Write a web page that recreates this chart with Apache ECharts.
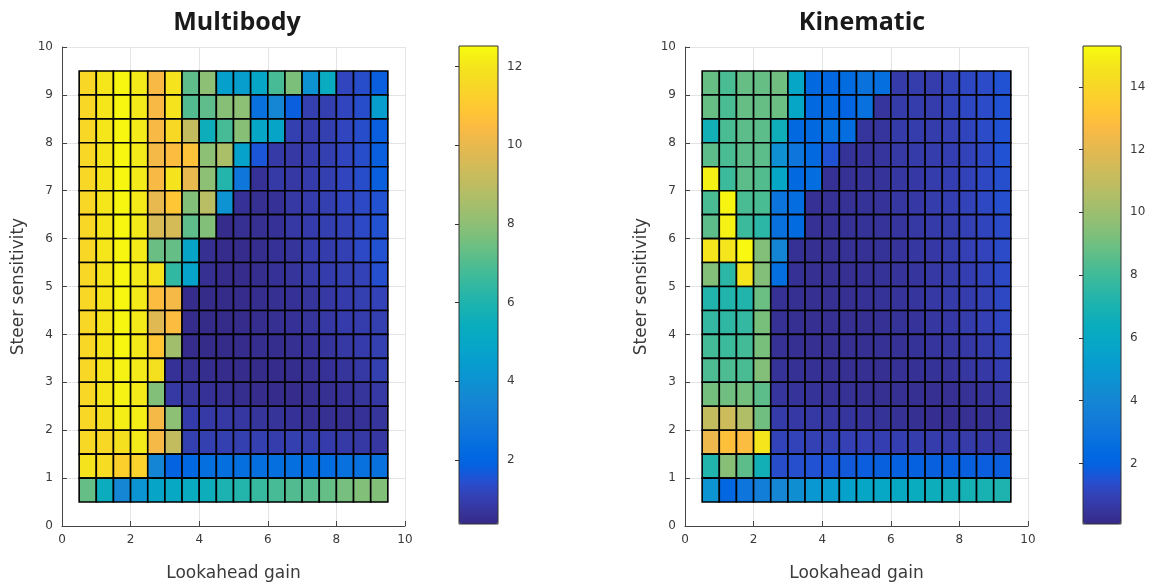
<!DOCTYPE html>
<html>
<head>
<meta charset="utf-8">
<script src="https://cdn.jsdelivr.net/npm/echarts@6/dist/echarts.min.js"></script>
<style>
html,body{margin:0;padding:0;background:#fff;}
#chart{width:1150px;height:587px;}
</style>
</head>
<body>
<div id="chart"></div>
<script>
// Cell centres (lookahead gain, left to right) and (steer sensitivity, top to bottom)
const gainCenters = [0.75,1.25,1.75,2.25,2.75,3.25,3.75,4.25,4.75,5.25,5.75,6.25,6.75,7.25,7.75,8.25,8.75,9.25];
const sensCenters = [9.25,8.75,8.25,7.75,7.25,6.75,6.25,5.75,5.25,4.75,4.25,3.75,3.25,2.75,2.25,1.75,1.25,0.75];

// Multibody values, rows from top (9.25) to bottom (0.75)
const multibody = [
  [11.5,12.0,12.4,12.1,10.4,11.9,7.2,8.0,4.6,4.5,5.0,6.8,7.7,4.0,5.3,1.2,1.4,1.8],
  [11.5,12.0,12.4,12.1,10.4,11.9,7.0,7.2,7.9,8.0,2.5,3.5,1.8,1.0,1.0,1.2,1.4,4.5],
  [11.5,12.0,12.4,12.1,10.4,11.6,9.1,5.5,6.8,7.9,5.0,4.9,1.0,0.9,1.0,1.2,1.4,1.8],
  [11.5,12.0,12.4,12.1,10.3,10.5,10.7,8.0,8.6,4.7,1.6,0.85,0.8,0.9,1.0,1.2,1.4,1.8],
  [11.5,12.0,12.4,12.1,10.4,11.9,10.0,8.0,6.1,2.8,0.6,0.85,0.8,0.9,1.0,1.2,1.4,1.8],
  [11.5,12.0,12.4,12.1,10.0,10.9,7.8,8.9,4.0,0.6,0.55,0.6,0.8,0.9,1.0,1.2,1.3,1.5],
  [11.5,12.0,12.4,12.1,9.6,9.5,7.2,7.8,0.45,0.55,0.55,0.6,0.8,0.9,1.0,1.1,1.3,1.5],
  [11.5,12.0,12.4,12.1,7.4,7.3,4.9,0.55,0.45,0.45,0.5,0.6,0.7,0.9,0.95,1.05,1.3,1.5],
  [11.5,12.0,12.4,12.1,11.9,6.4,4.8,0.55,0.45,0.45,0.5,0.6,0.7,0.85,0.95,1.0,1.1,1.45],
  [11.5,12.0,12.4,12.1,10.5,10.3,0.45,0.4,0.4,0.45,0.5,0.55,0.6,0.7,0.8,0.9,1.0,1.1],
  [11.5,12.0,12.4,12.1,9.8,10.5,0.45,0.4,0.4,0.45,0.5,0.55,0.6,0.7,0.8,0.9,0.95,1.0],
  [11.5,12.0,12.4,12.1,10.9,8.4,0.45,0.4,0.4,0.45,0.5,0.5,0.55,0.6,0.7,0.8,0.9,1.0],
  [11.5,12.0,12.3,12.1,11.8,0.6,0.55,0.5,0.45,0.45,0.4,0.45,0.5,0.55,0.6,0.7,0.8,1.0],
  [11.5,12.0,12.3,12.1,7.8,0.8,0.7,0.6,0.55,0.5,0.45,0.45,0.45,0.5,0.55,0.6,0.7,0.8],
  [11.5,11.8,12.2,12.2,10.3,8.0,0.9,0.85,0.8,0.75,0.7,0.65,0.6,0.55,0.55,0.55,0.6,0.7],
  [11.6,11.6,11.8,12.1,10.3,9.1,1.0,1.0,1.0,1.0,1.0,0.95,1.0,0.95,0.9,0.85,0.8,0.75],
  [11.9,11.7,11.2,11.3,3.4,1.9,2.1,2.4,2.4,2.4,2.4,2.4,2.4,2.3,2.3,2.5,2.5,2.5],
  [7.3,5.4,3.5,4.1,4.9,5.1,5.3,5.5,5.9,6.1,6.5,6.8,7.0,7.1,7.3,7.6,7.8,7.8]
];

// Kinematic values, rows from top (9.25) to bottom (0.75)
const kinematic = [
  [8.8,8.2,8.8,8.8,9.0,5.8,2.3,2.2,2.4,2.8,2.6,0.7,0.8,0.8,1.0,1.2,1.3,1.5],
  [8.8,8.2,8.8,8.8,8.9,5.8,2.3,2.3,2.1,2.7,0.5,0.7,0.8,0.8,1.0,1.2,1.3,1.5],
  [6.7,8.2,8.6,8.6,6.6,2.3,2.3,2.6,2.5,0.5,0.5,0.7,0.75,0.8,0.9,1.1,1.3,1.5],
  [8.6,8.2,8.6,8.6,4.5,3.0,2.3,1.5,0.4,0.45,0.5,0.6,0.7,0.75,0.85,1.0,1.2,1.5],
  [15.0,7.9,8.6,8.4,5.8,2.3,2.5,0.35,0.35,0.4,0.45,0.55,0.65,0.75,0.85,1.0,1.2,1.4],
  [8.2,15.1,8.2,8.2,2.9,2.5,0.35,0.35,0.35,0.4,0.45,0.55,0.65,0.75,0.85,1.0,1.2,1.4],
  [8.6,15.0,7.9,7.5,2.7,2.4,0.35,0.35,0.35,0.4,0.45,0.5,0.6,0.7,0.8,0.95,1.1,1.3],
  [14.6,14.6,15.2,9.4,3.9,0.35,0.3,0.3,0.35,0.35,0.4,0.45,0.55,0.65,0.75,0.9,1.05,1.3],
  [9.4,7.5,14.6,9.4,2.6,0.35,0.3,0.3,0.3,0.35,0.4,0.45,0.5,0.6,0.7,0.85,1.0,1.25],
  [7.2,7.2,7.2,8.9,0.35,0.3,0.3,0.3,0.3,0.35,0.4,0.45,0.5,0.6,0.7,0.8,0.95,1.2],
  [7.7,7.6,7.7,9.2,0.35,0.3,0.3,0.3,0.3,0.3,0.35,0.4,0.45,0.55,0.65,0.75,0.9,1.15],
  [8.1,7.9,8.1,9.2,0.35,0.3,0.3,0.3,0.3,0.3,0.35,0.35,0.4,0.5,0.55,0.65,0.8,1.0],
  [8.3,8.3,8.2,9.4,0.4,0.35,0.35,0.3,0.3,0.3,0.3,0.35,0.35,0.4,0.45,0.55,0.65,0.85],
  [9.1,9.0,9.1,8.6,0.5,0.45,0.4,0.35,0.35,0.3,0.3,0.3,0.3,0.3,0.3,0.35,0.45,0.55],
  [11.0,11.3,10.5,9.0,0.7,0.65,0.6,0.55,0.5,0.45,0.4,0.35,0.3,0.25,0.25,0.3,0.35,0.45],
  [12.3,13.0,12.8,14.6,1.0,1.0,0.95,0.95,0.9,0.9,0.85,0.85,0.8,0.75,0.7,0.7,0.65,0.6],
  [7.2,9.5,8.6,6.7,1.35,1.4,1.5,1.6,1.7,1.85,1.9,1.95,1.95,1.9,1.9,1.9,1.85,1.85],
  [4.7,2.2,3.0,3.5,4.0,4.4,4.9,5.2,5.5,5.8,5.95,6.1,6.3,6.5,6.6,6.8,6.9,7.1]
];

// Colour scale limits and colourbar ticks
const multibodyRange = [0.37, 12.52];
const kinematicRange = [0.07, 15.3];
const multibodyTicks = [2, 4, 6, 8, 10, 12];
const kinematicTicks = [2, 4, 6, 8, 10, 12, 14];
const xTickStep = 2;
const yTickStep = 1;
const titles = ['Multibody', 'Kinematic'];
const xLabel = 'Lookahead gain';
const yLabel = 'Steer sensitivity';

// MATLAB parula colormap (64 entries)
const parula = ['#352a87','#363093','#3637a0','#353dad','#3243ba','#2c4ac7','#2053d4','#0f5cdd',
  '#0363e1','#0268e1','#046de0','#0871de','#0d75dc','#1079da','#127dd8','#1481d6',
  '#1485d4','#1389d3','#108ed2','#0c93d2','#0998d1','#079ccf','#06a0cd','#06a4ca',
  '#06a7c6','#07a9c2','#0aacbe','#0faeb9','#16b1b4','#1db3af','#25b5a9','#2eb7a4',
  '#38b99e','#42bb98','#4dbc92','#59bd8c','#65be86','#71bf80','#7cbf7b','#87bf77',
  '#92bf73','#9bbf6f','#a5be6b','#aebe67','#b7bd64','#c0bc60','#c8bc5d','#d1bb59',
  '#d9ba56','#e1b952','#e9b94e','#f1b94a','#f8ba44','#fdbe3d','#ffc337','#fec832',
  '#fcce2e','#fad32a','#f7d826','#f5de21','#f5e41d','#f5eb18','#f6f313','#f9fb0e'];

function toTriples(matrix) {
  const out = [];
  matrix.forEach((row, r) => row.forEach((v, c) => out.push([gainCenters[c], sensCenters[r], v])));
  return out;
}
const halfW = (gainCenters[1] - gainCenters[0]) / 2;
const halfH = (sensCenters[0] - sensCenters[1]) / 2;

function renderCell(params, api) {
  const x = api.value(0), y = api.value(1);
  const p0 = api.coord([x - halfW, y + halfH]);
  const p1 = api.coord([x + halfW, y - halfH]);
  return {
    type: 'rect',
    shape: { x: p0[0], y: p0[1], width: p1[0] - p0[0], height: p1[1] - p0[1] },
    style: { fill: api.visual('color'), stroke: '#000', lineWidth: 1.6 }
  };
}

const FONT = 'DejaVu Sans';
const axisCol = '#444';
const gridCol = '#e4e4e4';
const textCol = '#3a3a3a';

function mainX(gi) {
  return {
    type: 'value', gridIndex: gi, min: 0, max: 10, interval: xTickStep,
    name: xLabel, nameLocation: 'middle', nameGap: 39,
    nameTextStyle: { fontFamily: FONT, fontSize: 17, color: textCol },
    axisLine: { show: true, lineStyle: { color: axisCol, width: 1 } },
    axisTick: { show: true, inside: true, length: 5, lineStyle: { color: axisCol } },
    axisLabel: { fontFamily: FONT, fontSize: 12, color: textCol, margin: 8 },
    splitLine: { show: true, lineStyle: { color: gridCol, width: 1 } }
  };
}
function mainY(gi) {
  return {
    type: 'value', gridIndex: gi, min: 0, max: 10, interval: yTickStep,
    name: yLabel, nameLocation: 'middle', nameGap: 35,
    nameTextStyle: { fontFamily: FONT, fontSize: 17, color: textCol },
    axisLine: { show: true, lineStyle: { color: axisCol, width: 1 } },
    axisTick: { show: true, inside: true, length: 5, lineStyle: { color: axisCol } },
    axisLabel: { fontFamily: FONT, fontSize: 12, color: textCol, margin: 9 },
    splitLine: { show: true, lineStyle: { color: gridCol, width: 1 } }
  };
}
function barY(gi, range, ticks) {
  return {
    type: 'value', gridIndex: gi, min: range[0], max: range[1], position: 'right',
    axisLine: { show: false },
    axisTick: { show: true, inside: true, length: 4, customValues: ticks, lineStyle: { color: '#333' } },
    axisLabel: { fontFamily: FONT, fontSize: 12, color: textCol, margin: 9, customValues: ticks },
    splitLine: { show: false }
  };
}

const chart = echarts.init(document.getElementById('chart'), null, { renderer: 'canvas' });
chart.setOption({
  animation: false,
  backgroundColor: '#fff',
  title: [
    { text: titles[0], left: 232, top: 5, textAlign: 'center',
      textStyle: { fontFamily: 'Open Sans', fontWeight: 'bold', fontSize: 25, color: '#1a1a1a' } },
    { text: titles[1], left: 857, top: 5, textAlign: 'center',
      textStyle: { fontFamily: 'Open Sans', fontWeight: 'bold', fontSize: 25, color: '#1a1a1a' } }
  ],
  grid: [
    { left: 62, top: 47, width: 343, height: 479 },
    { left: 685, top: 47, width: 343, height: 479 },
    { left: 459, top: 46, width: 39, height: 478, show: true, borderColor: '#333', borderWidth: 1, backgroundColor: 'transparent', z: 10 },
    { left: 1083, top: 46, width: 38, height: 478, show: true, borderColor: '#333', borderWidth: 1, backgroundColor: 'transparent', z: 10 }
  ],
  xAxis: [
    mainX(0), mainX(1),
    { type: 'value', gridIndex: 2, show: false, min: 0, max: 1 },
    { type: 'value', gridIndex: 3, show: false, min: 0, max: 1 }
  ],
  yAxis: [
    mainY(0), mainY(1),
    barY(2, multibodyRange, multibodyTicks),
    barY(3, kinematicRange, kinematicTicks)
  ],
  visualMap: [
    { type: 'continuous', seriesIndex: 0, dimension: 2, min: multibodyRange[0], max: multibodyRange[1],
      inRange: { color: parula }, left: 459, top: 46, itemWidth: 39, itemHeight: 478, padding: 0,
      calculable: false, hoverLink: false, text: null, showLabel: false, orient: 'vertical' },
    { type: 'continuous', seriesIndex: 1, dimension: 2, min: kinematicRange[0], max: kinematicRange[1],
      inRange: { color: parula }, left: 1083, top: 46, itemWidth: 38, itemHeight: 478, padding: 0,
      calculable: false, hoverLink: false, text: null, showLabel: false, orient: 'vertical' }
  ],
  series: [
    { type: 'custom', name: titles[0], xAxisIndex: 0, yAxisIndex: 0, renderItem: renderCell,
      encode: { x: 0, y: 1 }, data: toTriples(multibody), silent: true, z: 3 },
    { type: 'custom', name: titles[1], xAxisIndex: 1, yAxisIndex: 1, renderItem: renderCell,
      encode: { x: 0, y: 1 }, data: toTriples(kinematic), silent: true, z: 3 }
  ]
});
</script>
</body>
</html>
